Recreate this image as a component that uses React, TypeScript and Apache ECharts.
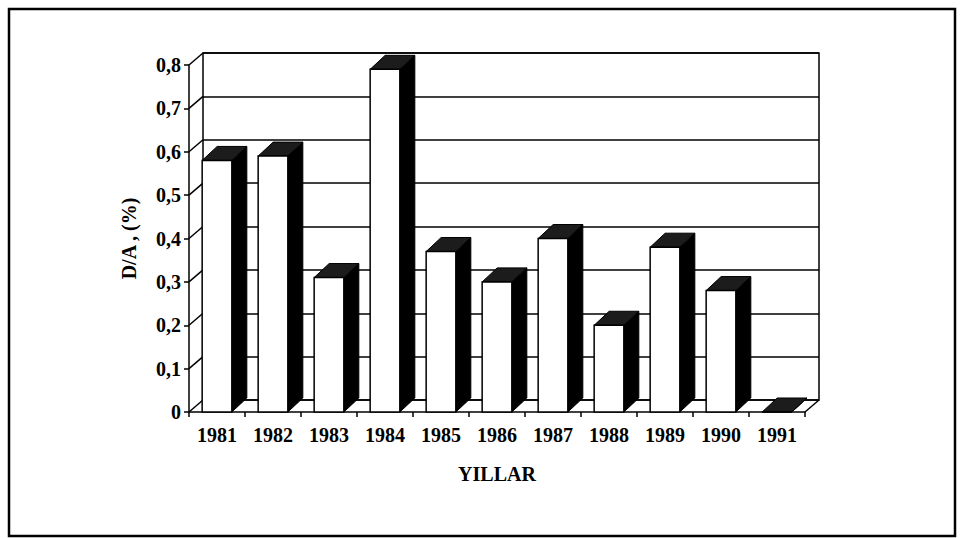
import React, { useEffect, useRef } from "react";
import * as echarts from "echarts";

const years = ["1981", "1982", "1983", "1984", "1985", "1986", "1987", "1988", "1989", "1990", "1991"];
const daValues = [0.58, 0.59, 0.31, 0.79, 0.37, 0.3, 0.4, 0.2, 0.38, 0.28, 0];
const yTicks = [0, 0.1, 0.2, 0.3, 0.4, 0.5, 0.6, 0.7, 0.8];

const WALL_DX = 14;
const WALL_DY = 12;
const BAR_DX = 15;
const BAR_DY = 14;
const FONT = "'Liberation Serif', 'Times New Roman', serif";

const fmt = (v: number) => (v === 0 ? "0" : v.toFixed(1).replace(".", ","));

export default function App() {
  const ref = useRef<HTMLDivElement>(null);
  useEffect(() => {
    if (!ref.current) return;
    const chart = echarts.init(ref.current, null, { renderer: "svg" });
    const option: any = {
      animation: false,
      backgroundColor: "#fff",
      graphic: [
        {
          type: "rect",
          shape: { x: 9, y: 9, width: 946, height: 527 },
          style: { fill: "none", stroke: "#000", lineWidth: 2.5 },
          silent: true,
          z: 100,
        },
      ],
      grid: [
        { left: 189, right: 158, top: 65, bottom: 126 },
        {
          left: 189 + WALL_DX,
          right: 158 - WALL_DX,
          top: 65 - WALL_DY,
          bottom: 126 + WALL_DY,
          show: true,
          borderColor: "#000",
          borderWidth: 1.5,
          backgroundColor: "transparent",
        },
      ],
      xAxis: [
        {
          type: "category",
          gridIndex: 0,
          data: years,
          name: "YILLAR",
          nameLocation: "middle",
          nameGap: 52,
          nameTextStyle: { fontFamily: FONT, fontSize: 20, fontWeight: "bold", color: "#000" },
          axisLine: { lineStyle: { color: "#000", width: 1.5 } },
          axisTick: { show: true, length: 5, lineStyle: { color: "#000", width: 1.5 } },
          axisLabel: { margin: 13, fontFamily: FONT, fontSize: 20, fontWeight: "bold", color: "#000" },
          splitLine: { show: false },
        },
        {
          type: "category",
          gridIndex: 1,
          data: years,
          show: false,
        },
      ],
      yAxis: [
        {
          type: "value",
          gridIndex: 0,
          min: 0,
          max: 0.8,
          interval: 0.1,
          name: "D/A , (%)",
          nameLocation: "middle",
          nameGap: 50,
          nameRotate: 90,
          nameTextStyle: { fontFamily: FONT, fontSize: 20, fontWeight: "bold", color: "#000" },
          axisLine: { show: true, lineStyle: { color: "#000", width: 1.5 } },
          axisTick: { show: true, length: 5, lineStyle: { color: "#000", width: 1.5 } },
          axisLabel: {
            margin: 8,
            fontFamily: FONT,
            fontSize: 20,
            fontWeight: "bold",
            color: "#000",
            formatter: (v: number) => fmt(v),
          },
          splitLine: { show: false },
        },
        {
          type: "value",
          gridIndex: 1,
          min: 0,
          max: 0.8,
          interval: 0.1,
          axisLine: { show: false },
          axisTick: { show: false },
          axisLabel: { show: false },
          splitLine: { show: true, lineStyle: { color: "#000", width: 1.5 } },
        },
      ],
      series: [
        {
          type: "custom",
          name: "walls",
          xAxisIndex: 0,
          yAxisIndex: 0,
          data: yTicks.map((v) => [0, v]),
          silent: true,
          z: 1,
          renderItem: (params: any, api: any) => {
            const cs = params.coordSys;
            const y = api.coord([0, api.value(1)])[1];
            return {
              type: "line",
              shape: { x1: cs.x, y1: y, x2: cs.x + WALL_DX, y2: y - WALL_DY },
              style: { stroke: "#000", lineWidth: 1.5 },
            };
          },
        },
        {
          type: "custom",
          name: "floor",
          xAxisIndex: 0,
          yAxisIndex: 0,
          data: [[0, 0]],
          silent: true,
          z: 1,
          renderItem: (params: any, api: any) => {
            const cs = params.coordSys;
            const y = api.coord([0, 0])[1];
            const xr = cs.x + cs.width;
            return {
              type: "line",
              shape: { x1: xr, y1: y, x2: xr + WALL_DX, y2: y - WALL_DY },
              style: { stroke: "#000", lineWidth: 1.5 },
            };
          },
        },
        {
          type: "custom",
          name: "D/A",
          xAxisIndex: 0,
          yAxisIndex: 0,
          data: daValues.map((v, i) => [i, v]),
          z: 3,
          renderItem: (params: any, api: any) => {
            const idx = api.value(0);
            const val = api.value(1);
            const top = api.coord([idx, val]);
            const base = api.coord([idx, 0]);
            const w = api.size([1, 0])[0] * 0.53;
            const x0 = top[0] - w / 2;
            const x1 = top[0] + w / 2;
            const yt = top[1];
            const yb = base[1];
            return {
              type: "group",
              children: [
                {
                  type: "polygon",
                  shape: {
                    points: [
                      [x1, yt],
                      [x1 + BAR_DX, yt - BAR_DY],
                      [x1 + BAR_DX, yb - BAR_DY],
                      [x1, yb],
                    ],
                  },
                  style: { fill: "#000", stroke: "#000", lineWidth: 1 },
                },
                {
                  type: "polygon",
                  shape: {
                    points: [
                      [x0, yt],
                      [x0 + BAR_DX, yt - BAR_DY],
                      [x1 + BAR_DX, yt - BAR_DY],
                      [x1, yt],
                    ],
                  },
                  style: { fill: "#1c1c1c", stroke: "#000", lineWidth: 1 },
                },
                {
                  type: "rect",
                  shape: { x: x0, y: yt, width: w, height: yb - yt },
                  style: { fill: "#fff", stroke: "#000", lineWidth: 1.5 },
                },
              ],
            };
          },
        },
      ],
    };
    chart.setOption(option);
    return () => chart.dispose();
  }, []);
  return (
    <div
      ref={ref}
      style={{ position: "absolute", left: 0, top: 0, width: 963, height: 538 }}
    />
  );
}
